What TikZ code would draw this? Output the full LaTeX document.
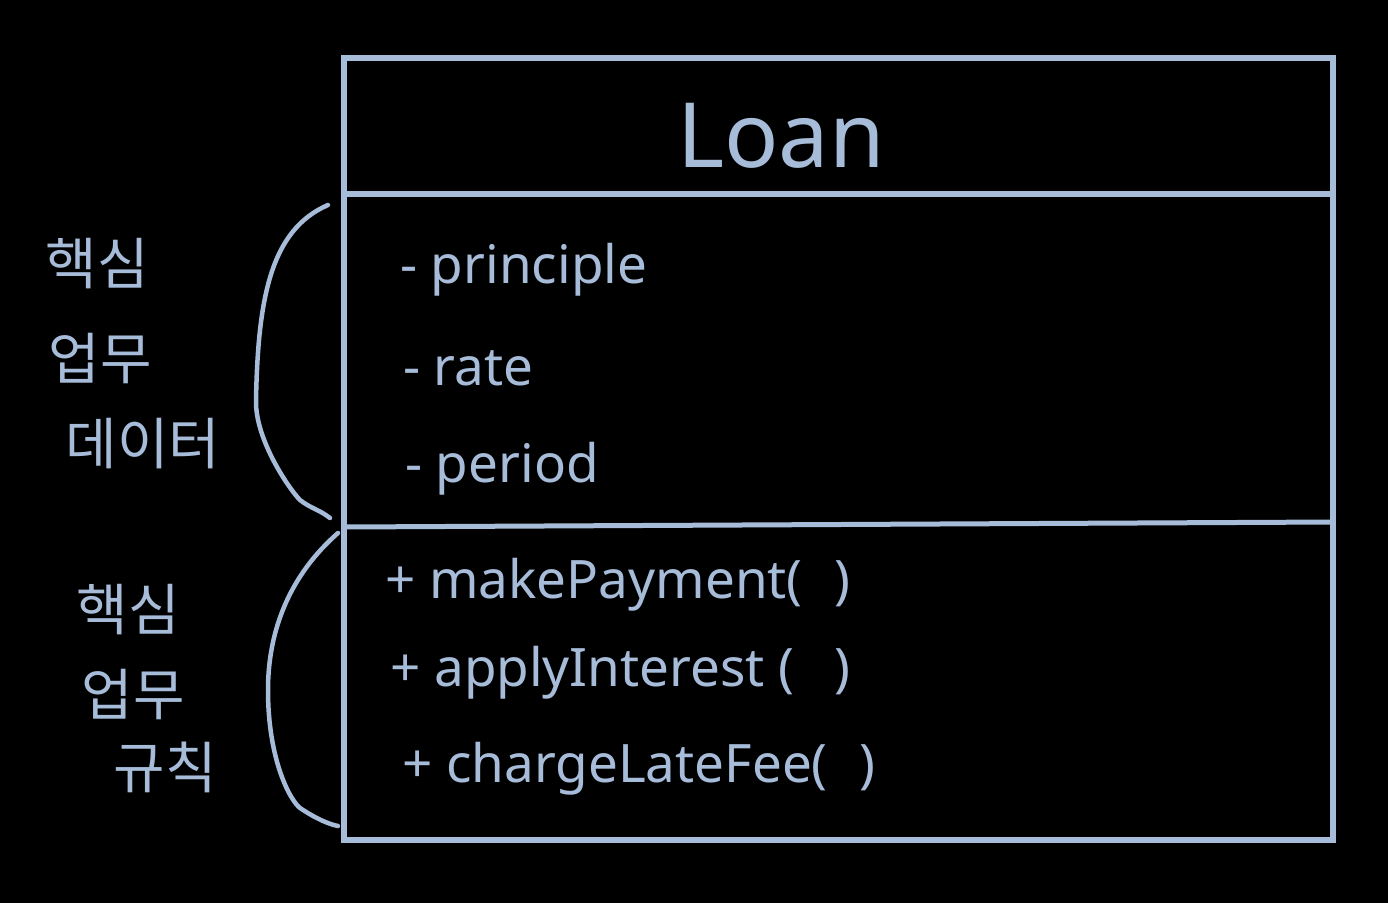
\documentclass[tikz,border=0pt]{standalone}
\usepackage{fontspec}
\setmainfont{Noto Sans}
\newfontfamily\kr{Noto Sans CJK KR}
\definecolor{ink}{HTML}{A7BCD9}
\begin{document}
\begin{tikzpicture}[x=1pt,y=-1pt,
  ink/.style={draw=ink,line width=6pt},
  brace/.style={draw=ink,line width=4.5pt,line cap=round,line join=round},
  member/.style={text=ink,anchor=base west,inner sep=0pt,font=\fontsize{53}{56}\selectfont},
  kor/.style={text=ink,anchor=center,inner sep=0pt,font=\kr\fontsize{56}{60}\selectfont}]
\fill[black] (0,0) rectangle (1388,903);
\useasboundingbox (0,0) rectangle (1388,903);
% class box
\coordinate (tl) at (344,58);
\coordinate (br) at (1333,840);
\draw[ink] (tl) rectangle (br);
\coordinate (h1l) at (344,194);
\coordinate (h1r) at (1333,194);
\coordinate (h2l) at (344,527);
\coordinate (h2r) at (1333,522);
\draw[ink] (h1l) -- (h1r);
\draw[draw=ink,line width=5pt] (h2l) -- (h2r);
% title
\node[text=ink,inner sep=0pt,font=\fontsize{90}{96}\selectfont] (title) at (781,136) {Loan};
% attributes
\node[member] (a1) at (400,283) {- principle};
\node[member] (a2) at (403,385) {- rate};
\node[member] (a3) at (405,482) {- period};
% methods
\node[member] (m1) at (385,598) {+ makePayment(\,\, )};
\node[member] (m2) at (390,686) {+ applyInterest (\,\,\, )};
\node[member] (m3) at (402,782) {+ chargeLateFee(\,\, )};
% braces
\coordinate (b1s) at (328,205);
\coordinate (b1e) at (330,518);
\draw[brace] (b1s) .. controls (270,230) and (258,300) .. (256,400)
  .. controls (255,440) and (290,490) .. (300,500)
  .. controls (310,508) and (320,510) .. (b1e);
\coordinate (b2s) at (338,533);
\coordinate (b2e) at (338,826);
\draw[brace] (b2s) .. controls (290,575) and (268,630) .. (268,690)
  .. controls (268,760) and (290,800) .. (300,808)
  .. controls (315,818) and (328,824) .. (b2e);
% Korean labels
\node[kor] (k1) at (97,264) {핵심};
\node[kor] (k2) at (100,358) {업무};
\node[kor] (k3) at (143,444) {데이터};
\node[kor] (k4) at (128,610) {핵심};
\node[kor] (k5) at (133,694) {업무};
\node[kor] (k6) at (165,767) {규칙};
\end{tikzpicture}
\end{document}
